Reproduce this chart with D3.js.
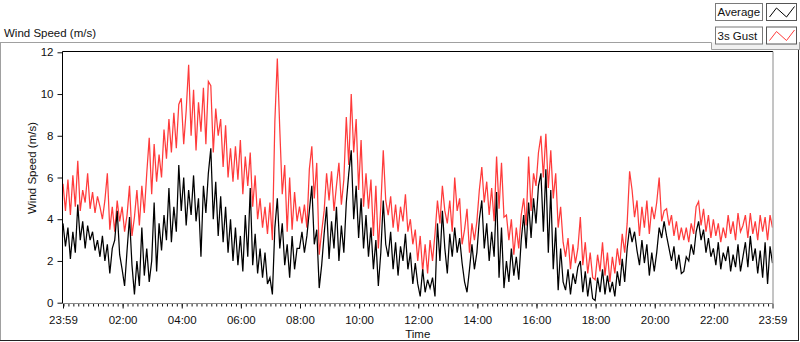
<!DOCTYPE html>
<html>
<head>
<meta charset="utf-8">
<script src="https://cdn.jsdelivr.net/npm/d3@7"></script>
<style>
  body { margin: 0; background: #fff; }
  text { font-family: "Liberation Sans", Arial, sans-serif; font-size: 11.5px; fill: #111; }
</style>
</head>
<body>
<div id="chart"></div>
<script>
// Wind speed chart - Average and 3s Gust over one day

// Section 1: data (5 minute samples, starting 23:59 the day before)
// ======================================================

var startTime = new Date(2020, 0, 1, 23, 59);
var stepMinutes = 5;

var seriesNames = ["Average", "3s Gust"];
var yTicks = [0, 2, 4, 6, 8, 10, 12];

var gustData = [
  5.7, 4.4, 5.9, 4.2, 6.1, 4.6, 6.8, 4.4, 5.4, 4.8, 6.2, 4.5,
  5.3, 4.3, 5.1, 4.6, 4.0, 4.9, 6.2, 3.5, 4.6, 3.4, 4.9, 3.9,
  4.6, 3.4, 4.2, 5.6, 3.2, 4.1, 5.4, 3.7, 5.6, 4.3, 6.2, 7.9,
  5.2, 7.6, 5.8, 7.1, 6.0, 8.3, 6.9, 8.8, 7.2, 9.1, 7.4, 9.5,
  9.8, 7.6, 9.2, 11.4, 8.0, 10.2, 7.3, 9.6, 8.2, 10.3, 7.6, 10.6,
  10.4, 7.2, 9.3, 8.0, 8.8, 6.5, 8.5, 6.0, 7.4, 5.8, 7.5, 5.9,
  7.8, 5.2, 7.0, 5.6, 7.2, 4.6, 6.1, 4.0, 5.0, 3.6, 4.6, 3.3,
  4.8, 3.0, 8.7, 11.7, 8.3, 5.2, 6.6, 3.4, 6.0, 3.5, 5.3, 3.9,
  4.6, 3.8, 4.7, 3.6, 6.4, 7.5, 5.0, 6.7, 2.3, 3.4, 4.4, 6.2,
  4.9, 6.3, 4.4, 5.6, 6.7, 4.7, 5.9, 8.9, 6.6, 10.0, 7.2, 8.8,
  5.4, 7.8, 4.6, 6.2, 4.5, 5.9, 3.2, 5.6, 2.6, 4.6, 7.3, 4.9,
  4.2, 5.1, 3.6, 4.7, 3.4, 4.6, 3.9, 5.2, 3.4, 4.0, 2.8, 3.5,
  2.0, 3.2, 1.5, 2.8, 1.4, 3.0, 2.0, 3.3, 4.9, 3.8, 5.6, 4.4,
  3.8, 4.9, 3.4, 6.0, 4.4, 5.0, 2.8, 3.5, 4.5, 2.4, 3.8, 3.0,
  3.9, 5.4, 6.5, 4.8, 5.8, 4.2, 5.5, 3.9, 7.0, 4.5, 6.7, 4.1,
  4.2, 3.0, 4.0, 2.3, 3.6, 2.6, 4.2, 5.0, 3.7, 7.0, 4.4, 6.2,
  5.6, 7.2, 8.0, 6.0, 8.1, 5.5, 7.3, 5.0, 6.2, 3.6, 4.6, 2.9,
  2.2, 3.1, 1.6, 2.8, 1.9, 2.6, 4.1, 1.8, 2.9, 1.4, 2.4, 1.2,
  1.1, 2.3, 1.5, 2.9, 1.3, 2.4, 1.0, 2.2, 1.4, 2.6, 1.8, 3.3,
  2.4, 3.8, 6.3, 5.4, 4.1, 4.9, 3.2, 4.6, 3.6, 4.9, 3.3, 4.6,
  4.0, 4.8, 6.0, 3.9, 4.4, 4.5, 3.7, 4.2, 3.2, 3.9, 3.0, 3.6,
  3.0, 3.6, 2.9, 3.8, 3.3, 4.6, 4.85, 3.7, 4.5, 3.4, 4.2, 3.1,
  4.0, 3.2, 3.8, 2.9, 3.6, 3.1, 4.2, 3.3, 3.9, 3.0, 4.3, 3.4,
  3.7, 4.2, 3.1, 4.3, 3.3, 3.9, 3.0, 4.2, 3.4, 4.1, 3.0, 4.2, 3.6
];

var avgData = [
  3.8, 2.7, 3.6, 2.1, 3.4, 2.4, 4.7, 3.0, 3.9, 2.6, 3.7, 3.0,
  3.4, 2.5, 3.0, 2.2, 3.2, 2.0, 2.8, 1.4, 2.6, 3.0, 4.4, 2.3,
  1.6, 0.8, 2.5, 4.1, 1.8, 0.4, 2.0, 0.8, 3.6, 1.3, 2.6, 1.0,
  2.0, 4.8, 1.5, 3.8, 2.5, 4.2, 3.0, 5.5, 2.9, 4.6, 3.4, 6.6,
  4.4, 6.0, 3.7, 5.4, 4.2, 6.1, 3.9, 5.0, 2.2, 5.6, 4.3, 6.2,
  7.4, 4.0, 5.8, 3.2, 5.1, 2.9, 4.6, 2.4, 4.0, 2.0, 3.6, 1.8,
  3.2, 1.5, 4.2, 2.2, 5.5, 1.8, 3.3, 1.4, 2.6, 1.2, 2.4, 0.9,
  1.2, 0.4, 3.6, 5.0, 2.6, 3.8, 1.8, 2.8, 1.2, 3.2, 1.6, 2.6,
  2.6, 3.4, 2.4, 3.2, 4.4, 5.6, 2.8, 3.5, 0.7, 1.8, 3.3, 4.6,
  2.1, 3.9, 2.6, 4.6, 2.0, 3.7, 2.4, 4.8, 6.2, 7.3, 4.0, 5.6,
  3.1, 5.0, 2.6, 4.2, 2.2, 3.6, 1.6, 3.0, 0.8, 2.4, 4.9, 2.8,
  2.2, 3.4, 1.6, 2.9, 1.3, 2.7, 2.0, 3.3, 1.6, 2.4, 0.9, 1.9,
  0.9, 0.3, 1.6, 0.5, 1.1, 0.7, 1.2, 0.3, 3.8, 2.0, 4.4, 2.6,
  1.4, 3.3, 2.2, 3.6, 2.4, 3.1, 1.9, 1.0, 0.5, 1.6, 2.8, 1.6,
  2.4, 4.0, 4.9, 2.6, 3.8, 2.0, 3.4, 2.2, 5.3, 1.2, 3.6, 0.7,
  2.0, 1.0, 2.6, 1.3, 2.2, 1.1, 3.0, 4.2, 2.6, 4.8, 3.1, 5.0,
  3.8, 5.6, 6.2, 3.4, 6.4, 2.4, 5.4, 1.6, 3.6, 0.6, 2.6, 1.0,
  0.6, 1.6, 0.4, 1.4, 0.9, 1.7, 2.0, 0.5, 1.5, 0.3, 1.2, 0.2,
  0.1, 1.2, 0.5, 1.6, 0.4, 1.3, 0.5, 1.0, 0.3, 1.5, 0.8, 2.1,
  1.0, 2.6, 3.6, 2.9, 3.4, 2.5, 1.8, 3.0, 1.9, 2.8, 1.3, 2.4,
  1.5, 2.4, 3.6, 3.1, 3.9, 3.2, 2.6, 2.0, 2.7, 1.6, 2.3, 1.4,
  1.5, 2.2, 2.0, 2.8, 2.3, 3.4, 3.9, 3.0, 3.5, 2.4, 3.1, 2.2,
  2.6, 1.8, 2.9, 1.6, 2.4, 2.0, 2.7, 1.5, 2.3, 1.7, 2.8, 1.5,
  2.2, 2.9, 1.7, 3.2, 2.0, 2.6, 1.4, 2.5, 1.2, 2.9, 0.9, 2.7, 1.9
];

// Section 2: canvas and layout
// ======================================================

var width = 800;
var height = 342;
var plotLeft = 63;
var plotRight = 772.5;
var plotTop = 52;
var plotBottom = 303;

var svg = d3.select("#chart")
  .append("svg")
  .attr("width", width)
  .attr("height", height);

var endTime = d3.timeMinute.offset(startTime, stepMinutes * (gustData.length - 1));
var times = gustData.map(function(d, i) {
  return d3.timeMinute.offset(startTime, i * stepMinutes);
});

var xScale = d3.scaleTime()
  .domain([startTime, endTime])
  .range([plotLeft, plotRight]);

var yScale = d3.scaleLinear()
  .domain([0, 12])
  .range([plotBottom - 0.3, plotTop + 0.3]);

// outer frame (sunken look: light top/left, dark bottom/right)
svg.append("line")
  .attr("x1", 0).attr("x2", 711.5).attr("y1", 42.5).attr("y2", 42.5)
  .attr("stroke", "#a0a0a0");
svg.append("line")
  .attr("x1", 0.5).attr("x2", 0.5).attr("y1", 42.5).attr("y2", 341)
  .attr("stroke", "#a0a0a0");
svg.append("line")
  .attr("x1", 0).attr("x2", 799).attr("y1", 340.5).attr("y2", 340.5)
  .attr("stroke", "#222");
svg.append("line")
  .attr("x1", 798.5).attr("x2", 798.5).attr("y1", 49.5).attr("y2", 341)
  .attr("stroke", "#222");

// strip under the legend
svg.append("rect")
  .attr("x", 711.5).attr("y", 42.5).attr("width", 88).attr("height", 7)
  .attr("fill", "#f0f0f0");
svg.append("path")
  .attr("d", "M711.5,42.5V49.5H799.5")
  .attr("fill", "none")
  .attr("stroke", "#a0a0a0");
svg.append("line")
  .attr("x1", 799.5).attr("x2", 799.5).attr("y1", 42).attr("y2", 50)
  .attr("stroke", "#a0a0a0");

// top caption
svg.append("text")
  .attr("x", 4)
  .attr("y", 36.5)
  .text("Wind Speed (m/s)");

// Section 3: axes
// ======================================================

// labelled ticks: both ends plus every two hours in between
var majorTicks = [startTime]
  .concat(d3.timeHour.every(2).range(d3.timeMinute.offset(startTime, 62), endTime))
  .concat([endTime]);

var xMinor = d3.axisBottom(xScale)
  .ticks(d3.timeMinute.every(10))
  .tickSize(3)
  .tickFormat("");

svg.append("g")
  .attr("class", "xMinor")
  .attr("transform", "translate(0," + (plotBottom + 0.5) + ")")
  .call(xMinor)
  .call(function(g) { g.select(".domain").remove(); });

var xAxis = d3.axisBottom(xScale)
  .tickValues(majorTicks)
  .tickSize(5)
  .tickPadding(7)
  .tickFormat(d3.timeFormat("%H:%M"));

svg.append("g")
  .attr("class", "xAxis")
  .attr("transform", "translate(0," + (plotBottom + 0.5) + ")")
  .call(xAxis)
  .call(function(g) { g.select(".domain").remove(); });

var yAxis = d3.axisLeft(yScale)
  .tickValues(yTicks)
  .tickSize(5)
  .tickPadding(4);

svg.append("g")
  .attr("class", "yAxis")
  .attr("transform", "translate(" + (plotLeft - 0.5) + ",0)")
  .call(yAxis)
  .call(function(g) { g.select(".domain").remove(); });

svg.selectAll(".tick line").attr("stroke", "#111");
svg.selectAll(".tick text").attr("fill", "#111").style("font-size", "11.5px");

// axis titles
svg.append("text")
  .attr("x", (plotLeft + plotRight) / 2)
  .attr("y", 337.5)
  .attr("text-anchor", "middle")
  .text("Time");

svg.append("text")
  .attr("transform", "translate(36,168)rotate(-90)")
  .attr("text-anchor", "middle")
  .text("Wind Speed (m/s)");

// Section 4: plot lines
// ======================================================

svg.append("clipPath")
  .attr("id", "plotClip")
  .append("rect")
  .attr("x", plotLeft)
  .attr("y", plotTop)
  .attr("width", plotRight - plotLeft)
  .attr("height", plotBottom - plotTop);

var line = d3.line()
  .x(function(d, i) { return xScale(times[i]); })
  .y(function(d) { return yScale(d); });

var plotG = svg.append("g").attr("clip-path", "url(#plotClip)");

plotG.append("path")
  .datum(gustData)
  .attr("d", line)
  .attr("fill", "none")
  .attr("stroke", "#ff3b3b")
  .attr("stroke-width", 1.25);

plotG.append("path")
  .datum(avgData)
  .attr("d", line)
  .attr("fill", "none")
  .attr("stroke", "#000")
  .attr("stroke-width", 1.25);

// plot border: dark top/left, grey bottom/right
svg.append("path")
  .attr("d", "M" + (plotLeft - 0.5) + "," + (plotBottom + 0.5) + "V" + (plotTop - 0.5) + "H" + (plotRight + 0.5))
  .attr("fill", "none")
  .attr("stroke", "#000");
svg.append("path")
  .attr("d", "M" + (plotRight + 0.5) + "," + (plotTop - 0.5) + "V" + (plotBottom + 0.5) + "H" + (plotLeft - 0.5))
  .attr("fill", "none")
  .attr("stroke", "#8a8a8a");

// Section 5: legend
// ======================================================

var legendColors = ["#000", "#ff3b3b"];

var legend = svg.selectAll(".legendItem")
  .data(seriesNames)
  .enter()
  .append("g")
  .attr("class", "legendItem")
  .attr("transform", function(d, i) {
    return "translate(715.5," + (3.5 + i * 23.5) + ")";
  });

legend.append("rect")
  .attr("width", 47)
  .attr("height", 17)
  .attr("fill", "#fff")
  .attr("stroke", "#7a7a7a");

legend.append("text")
  .attr("x", 2)
  .attr("y", 12.5)
  .text(function(d) { return d; });

legend.append("rect")
  .attr("x", 51)
  .attr("width", 30)
  .attr("height", 17)
  .attr("fill", "#fff")
  .attr("stroke", "#555");

legend.append("polyline")
  .attr("points", "54,13.5 61,4.5 71,13.5 79,3")
  .attr("fill", "none")
  .attr("stroke", function(d, i) { return legendColors[i]; });
</script>
</body>
</html>
